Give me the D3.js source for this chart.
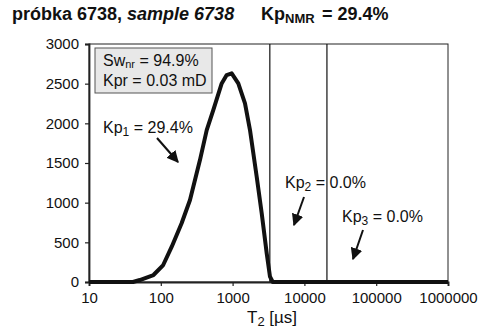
<!DOCTYPE html>
<html>
<head>
<meta charset="utf-8">
<script src="https://cdn.jsdelivr.net/npm/d3@7"></script>
<style>
  body { margin: 0; background: #fff; }
  svg text { font-family: "Liberation Sans", Arial, sans-serif; fill: #111; }
</style>
</head>
<body>
<div id="chart"></div>
<script>
// T2 distribution
const t2Values = [10, 41, 51, 79, 108, 142, 195, 255, 351, 436, 538, 705, 827, 971, 1200, 1488, 1747, 2166, 2543, 2985, 3318, 3622, 1000000];
const amplitude = [0, 0, 25, 88, 214, 445, 740, 1033, 1537, 1915, 2167, 2503, 2608, 2630, 2503, 2251, 1915, 1327, 866, 361, 67, 0, 0];

// cut-offs between Kp1 / Kp2 / Kp3
const cutoffs = [3300, 20600];

const xTicks = [10, 100, 1000, 10000, 100000, 1000000];
const yTicks = [0, 500, 1000, 1500, 2000, 2500, 3000];

const width = 482, height = 332;
const margin = { top: 44, right: 34, bottom: 50, left: 89 };
const innerW = width - margin.left - margin.right;
const innerH = height - margin.top - margin.bottom;

const svg = d3.select("#chart").append("svg")
    .attr("width", width)
    .attr("height", height);

// title
const title = svg.append("text")
    .attr("x", 12).attr("y", 20)
    .style("font-size", "18px").style("font-weight", "bold");
title.append("tspan").text("próbka 6738, ");
title.append("tspan").style("font-style", "italic").text("sample 6738");
title.append("tspan").attr("x", 261).text("Kp");
title.append("tspan").attr("dy", 3).style("font-size", "13px").text("NMR");
title.append("tspan").attr("dy", -3).attr("x", 322).text("= 29.4%");

const g = svg.append("g")
    .attr("transform", `translate(${margin.left},${margin.top})`);

const x = d3.scaleLog().domain([10, 1000000]).range([0, innerW]);
const y = d3.scaleLinear().domain([0, 3000]).range([innerH, 0]);

// frame
g.append("rect")
    .attr("width", innerW).attr("height", innerH)
    .attr("fill", "none").attr("stroke", "#222").attr("stroke-width", 1);

// cut-off lines
g.selectAll(".cut")
    .data(cutoffs)
    .join("line")
    .attr("x1", d => x(d)).attr("x2", d => x(d))
    .attr("y1", 0).attr("y2", innerH)
    .attr("stroke", "#111").attr("stroke-width", 1.2);

// axes
const xAxis = g.append("g")
    .attr("transform", `translate(0,${innerH})`)
    .call(d3.axisBottom(x).tickValues(xTicks).tickFormat(d3.format("d")).tickSize(4).tickPadding(6));
const yAxis = g.append("g")
    .call(d3.axisLeft(y).tickValues(yTicks).tickFormat(d3.format("d")).tickSize(4).tickPadding(6));

[xAxis, yAxis].forEach(a => {
    a.select(".domain").attr("stroke", "#222").attr("stroke-width", 1.8);
    a.selectAll(".tick line").attr("stroke", "#222").attr("stroke-width", 1.2);
    a.selectAll(".tick text").style("font-size", "15px").attr("fill", "#111");
});

// curve
const line = d3.line()
    .x((d, i) => x(t2Values[i]))
    .y(d => y(d));

g.append("path")
    .datum(amplitude)
    .attr("d", line)
    .attr("fill", "none")
    .attr("stroke", "#111")
    .attr("stroke-width", 4)
    .attr("stroke-linejoin", "round");

// info box
g.append("rect")
    .attr("x", 6).attr("y", 4).attr("width", 117).attr("height", 45)
    .attr("fill", "#e8e8e8").attr("stroke", "#555").attr("stroke-width", 1);
const l1 = g.append("text").attr("x", 14).attr("y", 22).style("font-size", "16px");
l1.append("tspan").text("Sw");
l1.append("tspan").attr("dy", 2).style("font-size", "11px").text("nr");
l1.append("tspan").attr("dy", -2).text(" = 94.9%");
g.append("text").attr("x", 14).attr("y", 42).style("font-size", "16px").text("Kpr = 0.03 mD");

// Kp labels with arrows
const labels = [
    { sub: "1", val: "29.4%", tx: 14, ty: 89, a: [[68, 94], [89, 118]] },
    { sub: "2", val: "0.0%", tx: 196, ty: 144, a: [[215, 153], [205, 181]] },
    { sub: "3", val: "0.0%", tx: 253, ty: 178, a: [[274, 186], [264, 215]] }
];

svg.append("defs").append("marker")
    .attr("id", "arr")
    .attr("viewBox", "0 0 10 10")
    .attr("refX", 9).attr("refY", 5)
    .attr("markerWidth", 6).attr("markerHeight", 6)
    .attr("markerUnits", "strokeWidth")
    .attr("orient", "auto")
    .append("path").attr("d", "M0,0 L10,5 L0,10 z").attr("fill", "#111");

labels.forEach(d => {
    const t = g.append("text").attr("x", d.tx).attr("y", d.ty).style("font-size", "16px");
    t.append("tspan").text("Kp");
    t.append("tspan").attr("dy", 3).style("font-size", "12px").text(d.sub);
    t.append("tspan").attr("dy", -3).text(" = " + d.val);
    g.append("line")
        .attr("x1", d.a[0][0]).attr("y1", d.a[0][1])
        .attr("x2", d.a[1][0]).attr("y2", d.a[1][1])
        .attr("stroke", "#111").attr("stroke-width", 2)
        .attr("marker-end", "url(#arr)");
});

// x axis title
const xt = svg.append("text")
    .attr("x", 247).attr("y", 323)
    .style("font-size", "17px");
xt.append("tspan").text("T");
xt.append("tspan").attr("dy", 3).style("font-size", "13px").text("2");
xt.append("tspan").attr("dy", -3).text("  [µs]");
</script>
</body>
</html>
